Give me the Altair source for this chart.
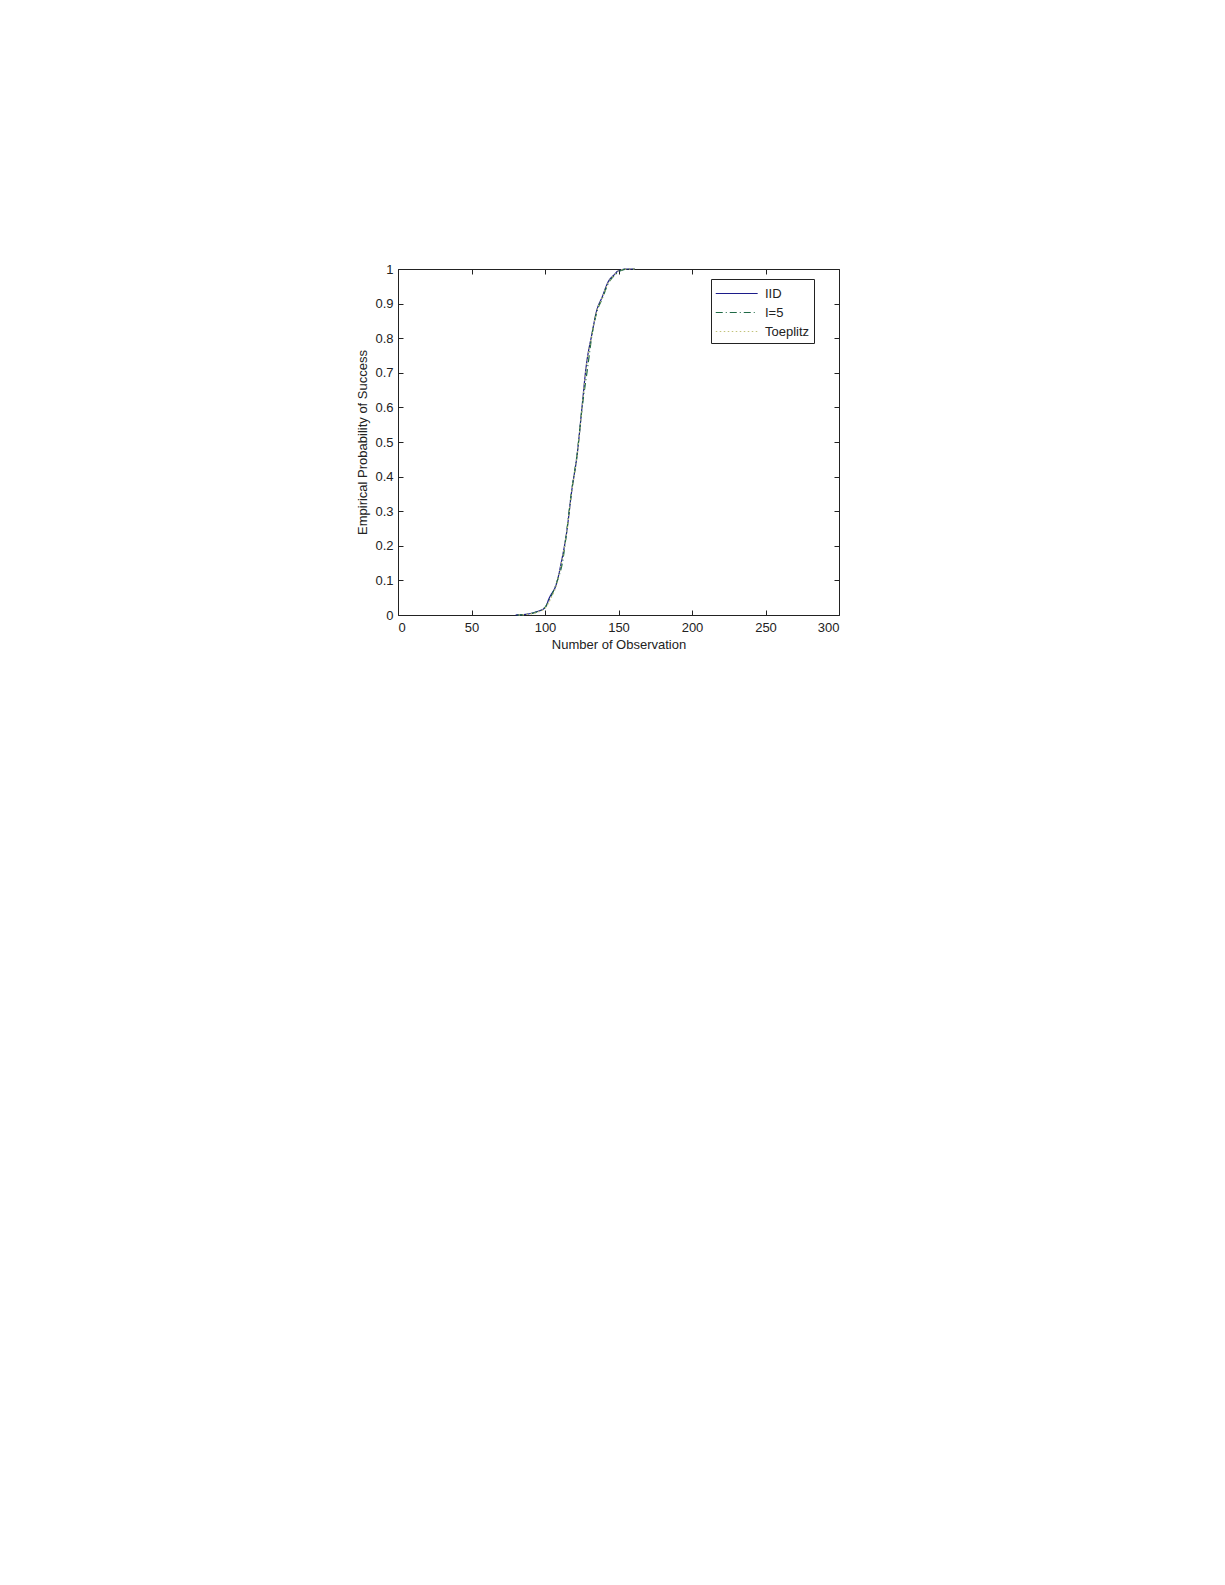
import altair as alt
import pandas as pd

series_names = ["IID", "I=5", "Toeplitz"]

iid_x = [80, 87, 94, 100, 103, 108, 111, 115, 118, 122, 125, 128, 132, 135, 139, 143, 147, 150, 156, 161]
iid_y = [0, 0.002, 0.009, 0.021, 0.05, 0.093, 0.15, 0.247, 0.353, 0.468, 0.593, 0.718, 0.814, 0.877, 0.92, 0.963, 0.983, 0.995, 1.0, 1.0]

i5_x = [81, 88, 95, 100, 104, 108, 112, 115, 118, 122, 125, 129, 132, 135, 139, 143, 147, 151, 156, 161]
i5_y = [0, 0.002, 0.010, 0.022, 0.052, 0.095, 0.155, 0.25, 0.355, 0.47, 0.59, 0.715, 0.81, 0.872, 0.915, 0.958, 0.98, 0.994, 1.0, 1.0]

toe_x = [82, 88, 95, 100, 104, 108, 111, 115, 118, 122, 125, 128, 132, 135, 139, 143, 147, 150, 156, 162]
toe_y = [0, 0.002, 0.008, 0.020, 0.048, 0.09, 0.148, 0.245, 0.35, 0.465, 0.59, 0.715, 0.812, 0.875, 0.918, 0.96, 0.982, 0.995, 1.0, 1.0]

x_ticks = [0, 50, 100, 150, 200, 250, 300]
y_ticks = [0, 0.1, 0.2, 0.3, 0.4, 0.5, 0.6, 0.7, 0.8, 0.9, 1.0]

colors = ["#1c1c8a", "#1f6a45", "#c2c27a"]
dashes = [[1, 0], [7, 3, 1, 3], [1.5, 2.5]]

rows = []
for name, xs, ys in [("IID", iid_x, iid_y), ("I=5", i5_x, i5_y), ("Toeplitz", toe_x, toe_y)]:
    for xv, yv in zip(xs, ys):
        rows.append({"obs": xv, "prob": yv, "series": name})
df = pd.DataFrame(rows)

FONT = "Liberation Sans"
FS = 13
W, H = 441, 346

xscale = alt.Scale(domain=[0, 300], nice=False, zero=False)
yscale = alt.Scale(domain=[0, 1], nice=False)

base_axis = dict(domain=False, grid=False, tickSize=5, offset=-5, tickColor="#222",
                 labelFont=FONT, labelFontSize=FS, labelColor="#222",
                 titleFont=FONT, titleFontSize=FS, titleColor="#222", titleFontWeight="normal")

lines = alt.Chart(df).mark_line(strokeWidth=1.2, interpolate="monotone").encode(
    x=alt.X("obs:Q", scale=xscale,
            axis=alt.Axis(values=x_ticks, format="d", labelPadding=6, titlePadding=4,
                          title="Number of Observation", **base_axis)),
    y=alt.Y("prob:Q", scale=yscale,
            axis=alt.Axis(values=y_ticks, format="~g", labelPadding=5, titlePadding=5,
                          title="Empirical Probability of Success", **base_axis)),
    color=alt.Color("series:N", sort=series_names,
                    scale=alt.Scale(domain=series_names, range=colors),
                    legend=alt.Legend(title=None)),
    strokeDash=alt.StrokeDash("series:N", sort=series_names,
                              scale=alt.Scale(domain=series_names, range=dashes),
                              legend=alt.Legend(title=None)),
)

frame = alt.Chart(df).mark_line(strokeOpacity=0).encode(
    x=alt.X("obs:Q", scale=xscale,
            axis=alt.Axis(values=x_ticks, labels=False, title=None, orient="top", **base_axis)),
    y=alt.Y("prob:Q", scale=yscale,
            axis=alt.Axis(values=y_ticks, labels=False, title=None, orient="right", **base_axis)),
)

chart = alt.layer(frame, lines).resolve_axis(x="independent", y="independent").properties(
    width=W, height=H,
    autosize=alt.AutoSizeParams(type="none"),
    padding={"left": 390, "top": 261, "right": 378, "bottom": 950},
).configure_view(
    stroke="#222", strokeWidth=1
).configure_legend(
    orient="none", legendX=313, legendY=10,
    strokeColor="#222", fillColor="white", padding=4,
    symbolType="M-1,0L3.3,0", symbolSize=380, symbolStrokeWidth=1.2,
    labelFont=FONT, labelFontSize=FS, labelColor="#222",
    rowPadding=1, labelOffset=29,
)

chart.save("out.html", embed_options={"renderer": "svg", "actions": False})
